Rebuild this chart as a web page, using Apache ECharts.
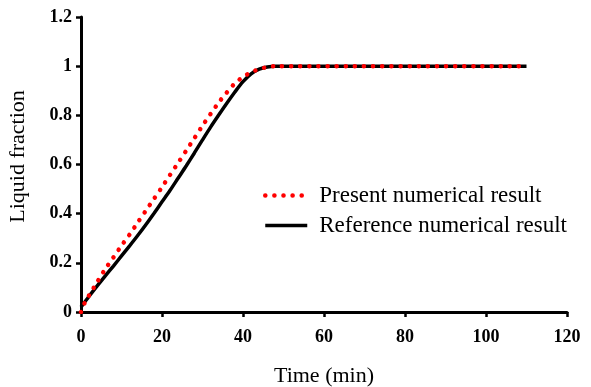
<!DOCTYPE html>
<html>
<head>
<meta charset="utf-8">
<script src="https://cdn.jsdelivr.net/npm/echarts@6/dist/echarts.min.js"></script>
<style>
  html, body { margin: 0; padding: 0; background: #fff; }
  #chart { width: 591px; height: 387px; }
</style>
</head>
<body>
<div id="chart"></div>
<script>
// values
const presentTimes = [0, 1, 2, 4, 6, 8, 10, 12, 14, 16, 18, 20, 22, 24, 26, 28, 30, 32, 34, 36, 38, 40, 42, 44, 46, 48, 110];
const presentValues = [0, 0.04, 0.068, 0.122, 0.175, 0.222, 0.27, 0.315, 0.364, 0.412, 0.46, 0.508, 0.558, 0.607, 0.657, 0.707, 0.758, 0.806, 0.852, 0.893, 0.93, 0.956, 0.975, 0.988, 0.996, 1.0, 1.0];

const referenceTimes = [0, 2, 4, 6, 8, 10, 12, 14, 16, 18, 20, 22, 24, 26, 28, 30, 32, 34, 36, 38, 40, 42, 44, 46, 48, 110];
const referenceValues = [0.02, 0.064, 0.106, 0.147, 0.187, 0.228, 0.269, 0.311, 0.355, 0.401, 0.448, 0.495, 0.545, 0.595, 0.647, 0.7, 0.752, 0.801, 0.849, 0.895, 0.937, 0.969, 0.988, 0.997, 1.0, 1.0];

const seriesNames = ["Present numerical result", "Reference numerical result"];

const serif = "'Liberation Serif', 'DejaVu Serif', serif";

const chart = echarts.init(document.getElementById("chart"), null, { renderer: "canvas" });

const axisLine = { show: true, lineStyle: { color: "#000", width: 3 } };
const axisTick = { show: true, inside: false, length: 5, lineStyle: { color: "#000", width: 2.5 } };
const tickLabel = { color: "#000", fontFamily: serif, fontWeight: "bold", fontSize: 18 };

const presentLine = { color: "#ff0000", width: 4.5, type: [0.1, 9], cap: "round" };
const referenceLine = { color: "#000", width: 3.5 };

chart.setOption({
  animation: false,
  backgroundColor: "#fff",
  grid: { left: 81, right: 24, top: 17, bottom: 75, containLabel: false, outerBoundsMode: "none" },
  legend: {
    data: [
      { name: seriesNames[0], lineStyle: presentLine },
      { name: seriesNames[1], lineStyle: referenceLine }
    ],
    orient: "vertical",
    left: 263,
    top: 184,
    padding: 0,
    itemWidth: 42,
    itemHeight: 14,
    itemGap: 7,
    itemStyle: { opacity: 0 },
    textStyle: { color: "#000", fontFamily: serif, fontSize: 23, lineHeight: 22, padding: [0, 0, 0, 7] }
  },
  xAxis: {
    type: "value",
    min: 0,
    max: 120,
    interval: 20,
    name: "Time (min)",
    nameLocation: "middle",
    nameGap: 53,
    nameTextStyle: { color: "#000", fontFamily: serif, fontSize: 22 },
    axisLine: axisLine,
    axisTick: axisTick,
    axisLabel: { ...tickLabel, margin: 16 },
    splitLine: { show: false }
  },
  yAxis: {
    type: "value",
    min: 0,
    max: 1.2,
    interval: 0.2,
    name: "Liquid fraction",
    nameLocation: "middle",
    nameGap: 52,
    nameTextStyle: { color: "#000", fontFamily: serif, fontSize: 22, padding: [0, 0, 0, 16] },
    axisLine: axisLine,
    axisTick: axisTick,
    axisLabel: { ...tickLabel, margin: 9 },
    splitLine: { show: false }
  },
  series: [
    {
      name: seriesNames[1],
      type: "line",
      symbol: "none",
      smooth: 0.3,
      lineStyle: referenceLine,
      itemStyle: { color: "#000" },
      data: referenceTimes.map((t, i) => [t, referenceValues[i]]),
      z: 2
    },
    {
      name: seriesNames[0],
      type: "line",
      symbol: "none",
      smooth: 0.3,
      lineStyle: presentLine,
      itemStyle: { color: "#ff0000" },
      data: presentTimes.map((t, i) => [t, presentValues[i]]),
      z: 3
    }
  ]
});
</script>
</body>
</html>
